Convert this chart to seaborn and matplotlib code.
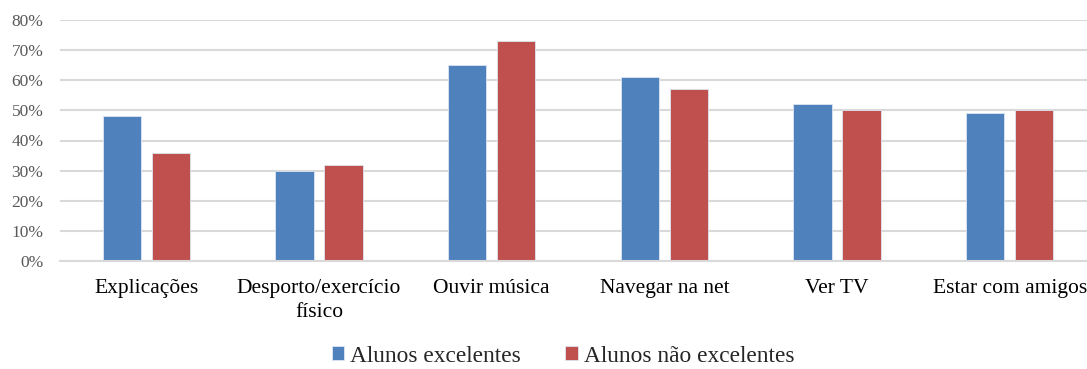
import pandas as pd
import seaborn as sns
from matplotlib import pyplot as plt
from matplotlib.ticker import PercentFormatter

categories = ["Explicações", "Desporto/exercício\nfísico", "Ouvir música",
              "Navegar na net", "Ver TV", "Estar com amigos"]
excelentes = [0.48, 0.30, 0.65, 0.61, 0.52, 0.49]
nao_excelentes = [0.36, 0.32, 0.73, 0.57, 0.50, 0.50]
series = ["Alunos excelentes", "Alunos não excelentes"]

df = pd.DataFrame({
    "cat": categories * 2,
    "val": excelentes + nao_excelentes,
    "grupo": [series[0]] * 6 + [series[1]] * 6,
})

sns.set_style("white")
plt.rcParams['font.family'] = ['Liberation Serif', 'DejaVu Serif']

fig = plt.figure(figsize=(10.87, 3.69), dpi=100)
ax = fig.add_axes([60 / 1087, 1 - 261 / 369, 1036 / 1087, 241 / 369])

sns.barplot(data=df, x="cat", y="val", hue="grupo", ax=ax,
            palette=["#4F81BD", "#C0504D"], width=0.57, gap=0.22,
            edgecolor="#dce6f2", linewidth=0.6, saturation=1)

ax.set_ylim(0, 0.8)
ax.set_yticks([i / 10 for i in range(9)])
ax.yaxis.set_major_formatter(PercentFormatter(1.0, decimals=0))
ax.set_xlim(-0.5, 5.5)
ax.grid(axis="y", color="#d9d9d9", linewidth=1.5)
ax.set_axisbelow(True)
for s in ["top", "right", "left"]:
    ax.spines[s].set_visible(False)
ax.spines["bottom"].set_color("#d9d9d9")
ax.spines["bottom"].set_linewidth(1.5)
ax.tick_params(axis="y", length=0, labelsize=12.5, labelcolor="#595959", pad=12)
ax.tick_params(axis="x", length=0, labelsize=15.5, labelcolor="black", pad=13)
for t in ax.get_xticklabels():
    t.set_linespacing(1.35)
ax.set_xlabel("")
ax.set_ylabel("")

ax.legend_.remove()
handles, labels = ax.get_legend_handles_labels()
fig.legend(handles, labels, loc="center", bbox_to_anchor=(563 / 1087, 1 - 356 / 369),
           ncol=2, frameon=False, fontsize=16.8, handlelength=0.55, handleheight=0.55,
           handletextpad=0.25, columnspacing=1.9)

plt.savefig("out.png", dpi=100)
